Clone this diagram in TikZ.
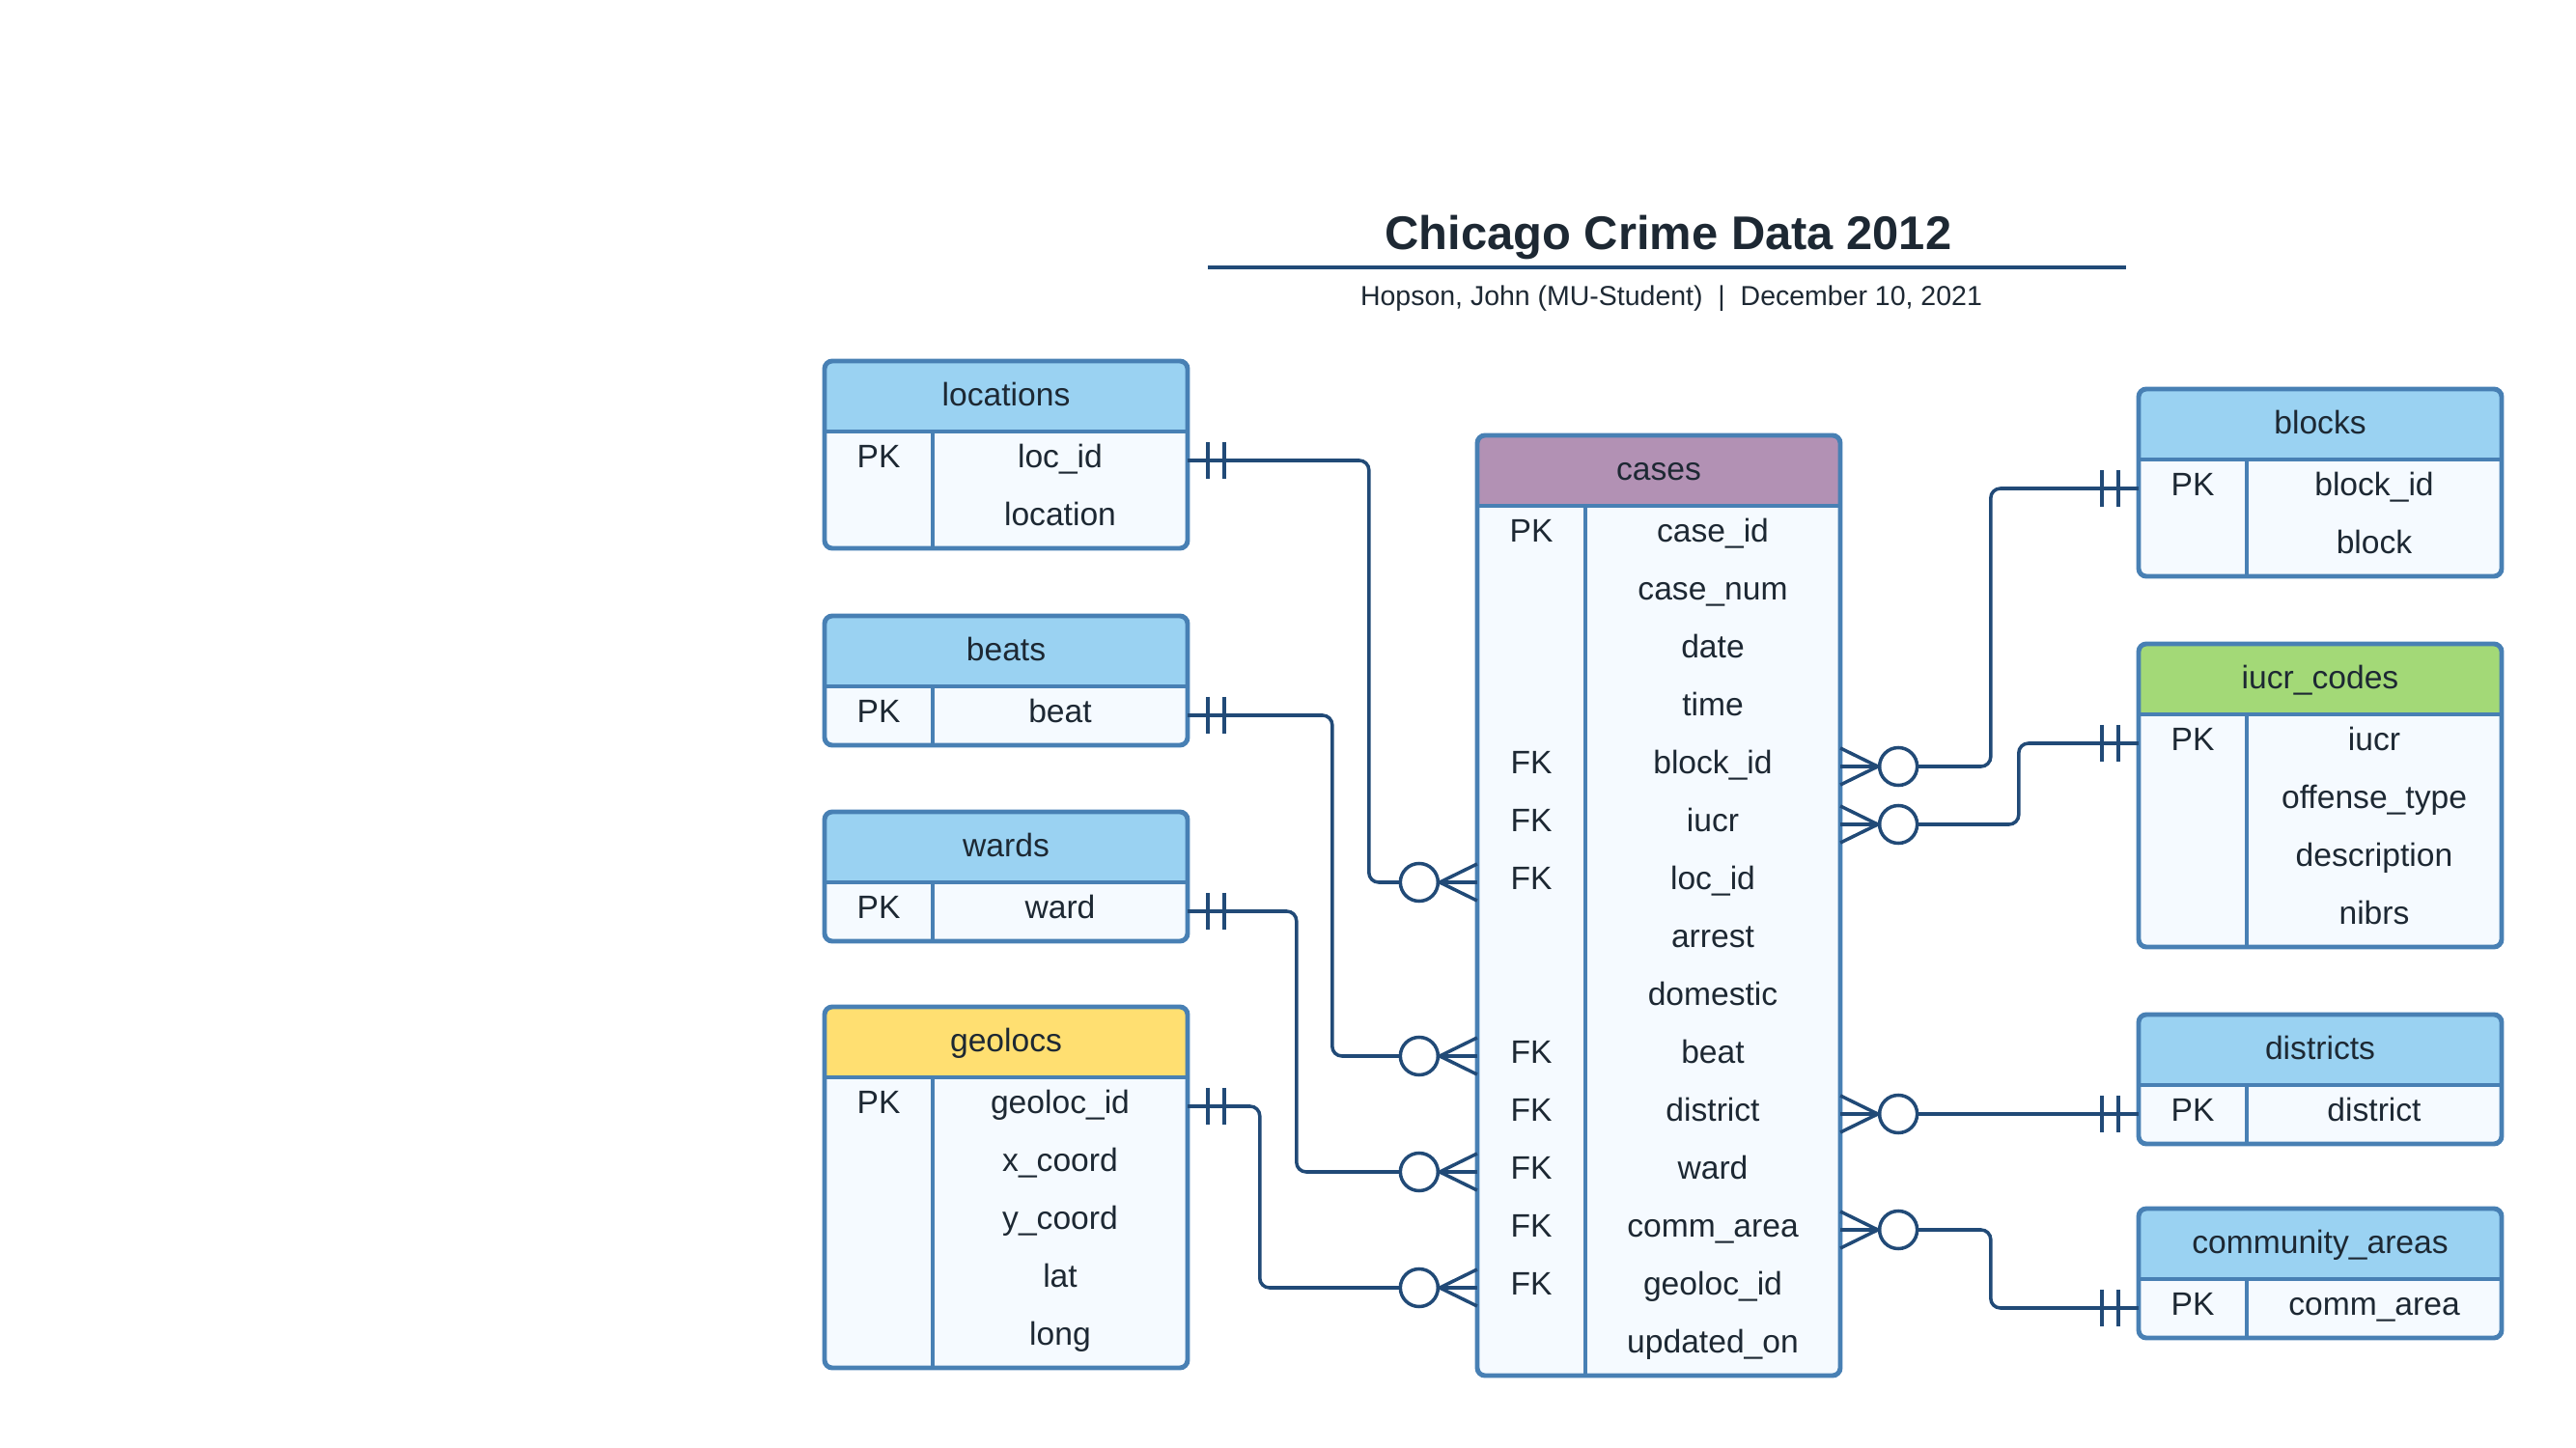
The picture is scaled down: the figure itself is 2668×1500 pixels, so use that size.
\documentclass[tikz,border=0pt]{standalone}
\usepackage{fontspec}
\setmainfont{Liberation Sans}
\definecolor{frame}{RGB}{72,128,180}
\definecolor{headblue}{RGB}{154,210,242}
\definecolor{headcase}{RGB}{178,145,180}
\definecolor{headgeo}{RGB}{255,223,113}
\definecolor{headiucr}{RGB}{163,217,119}
\definecolor{rowfill}{RGB}{245,250,255}
\definecolor{linkcol}{RGB}{33,74,119}
\definecolor{ink}{RGB}{29,40,51}

% #1 name, #2 left, #3 top, #4 header colour, #5 title, #6 rows, #7 key/field list
\newcommand\ertable[7]{%
  \pgfmathsetmacro\tblbot{#3+73+60*#6+1}
  \begin{scope}
    \clip[rounded corners=0.08cm] (#2,#3) rectangle ({#2+376},\tblbot);
    \fill[rowfill] (#2,#3) rectangle ({#2+376},\tblbot);
    \fill[#4] (#2,#3) rectangle ({#2+376},{#3+73});
  \end{scope}
  \draw[tbl] (#2,{#3+73}) -- ++(376,0) ({#2+112},{#3+73}) -- ({#2+112},\tblbot);
  \draw[tbl,rounded corners=0.08cm] (#2,#3) rectangle ({#2+376},\tblbot);
  \node[txt] (#1) at ({#2+188},{#3+34}) {#5};
  \foreach \key/\field [count=\i] in {#7} {
    \node[rowbox] (#1-\i) at ({#2+188},{#3+43+60*\i}) {};
    \node[txt] (#1-k\i) at ({#2+56},{#3+38+60*\i}) {\key};
    \node[txt] (#1-f\i) at ({#2+244},{#3+38+60*\i}) {\field};
  }%
}
% #1 row anchor, #2 side (1 right, -1 left)
\newcommand\onebars[2]{%
  \draw[link] ([xshift=#2*0.21cm]#1) ++(0,0.19cm) -- ++(0,-0.38cm)
    ([xshift=#2*0.38cm]#1) ++(0,0.19cm) -- ++(0,-0.38cm);
}
% #1 row anchor, #2 side, #3 circle name, #4 circle anchor
\newcommand\crowfoot[4]{%
  \node[zero] (#3) at ([xshift=#2*0.6cm]#1) {};
  \draw[link] ([yshift=0.19cm]#1) -- (#3.#4) -- ([yshift=-0.19cm]#1);
}

\begin{document}
\begin{tikzpicture}[x=0.01cm,y=-0.01cm,
  tbl/.style={draw=frame,line width=1.4pt},
  txt/.style={font=\fontsize{9.56pt}{11pt}\selectfont,text=ink,inner sep=0pt,
    text height=6.85pt,text depth=0pt},
  rowbox/.style={minimum width=3.76cm,minimum height=0.6cm,inner sep=0pt,outer sep=0pt},
  link/.style={draw=linkcol,line width=1pt},
  zero/.style={circle,draw=linkcol,fill=white,line width=1pt,minimum size=0.39cm,inner sep=0pt}]
\useasboundingbox (0,0) rectangle (2668,1500);

\node[font=\fontsize{13.9pt}{16pt}\selectfont\bfseries,text=ink] (title) at (1728,246) {Chicago Crime Data 2012};
\draw[draw=linkcol,line width=1.2pt] (1251,277) -- (2202,277);
\node[font=\fontsize{8.1pt}{10pt}\selectfont,text=ink] (byline) at (1731,309) {Hopson, John (MU-Student)\ \ |\ \ December 10, 2021};

\ertable{locations}{854}{374}{headblue}{locations}{2}{PK/loc\_id,/location}
\ertable{beats}{854}{638}{headblue}{beats}{1}{PK/beat}
\ertable{wards}{854}{841}{headblue}{wards}{1}{PK/ward}
\ertable{geolocs}{854}{1043}{headgeo}{geolocs}{5}{PK/geoloc\_id,/x\_coord,/y\_coord,/lat,/long}
\ertable{cases}{1530}{451}{headcase}{cases}{15}{PK/case\_id,/case\_num,/date,/time,FK/block\_id,FK/iucr,FK/loc\_id,/arrest,/domestic,FK/beat,FK/district,FK/ward,FK/comm\_area,FK/geoloc\_id,/updated\_on}
\ertable{blocks}{2215}{403}{headblue}{blocks}{2}{PK/block\_id,/block}
\ertable{iucr}{2215}{667}{headiucr}{iucr\_codes}{4}{PK/iucr,/offense\_type,/description,/nibrs}
\ertable{districts}{2215}{1051}{headblue}{districts}{1}{PK/district}
\ertable{areas}{2215}{1252}{headblue}{community\_areas}{1}{PK/comm\_area}

\draw[link,rounded corners=0.1cm] (locations-1.east) -| ([xshift=-1.12cm]cases-7.west) -- (cases-7.west);
\draw[link,rounded corners=0.1cm] (beats-1.east) -| ([xshift=-1.5cm]cases-10.west) -- (cases-10.west);
\draw[link,rounded corners=0.1cm] (wards-1.east) -| ([xshift=-1.87cm]cases-12.west) -- (cases-12.west);
\draw[link,rounded corners=0.1cm] (geolocs-1.east) -| ([xshift=-2.25cm]cases-14.west) -- (cases-14.west);
\draw[link,rounded corners=0.1cm] (cases-5.east) -| ([xshift=-1.53cm]blocks-1.west) -- (blocks-1.west);
\draw[link,rounded corners=0.1cm] (cases-6.east) -| ([xshift=-1.24cm]iucr-1.west) -- (iucr-1.west);
\draw[link] (cases-11.east) -- (districts-1.west);
\draw[link,rounded corners=0.1cm] (cases-13.east) -| ([xshift=-1.53cm]areas-1.west) -- (areas-1.west);

\foreach \t in {locations,beats,wards,geolocs} \onebars{\t-1.east}{1};
\foreach \t in {blocks,iucr,districts,areas} \onebars{\t-1.west}{-1};
\foreach \r in {7,10,12,14} \crowfoot{cases-\r.west}{-1}{z\r}{east};
\foreach \r in {5,6,11,13} \crowfoot{cases-\r.east}{1}{z\r}{west};
\end{tikzpicture}
\end{document}
